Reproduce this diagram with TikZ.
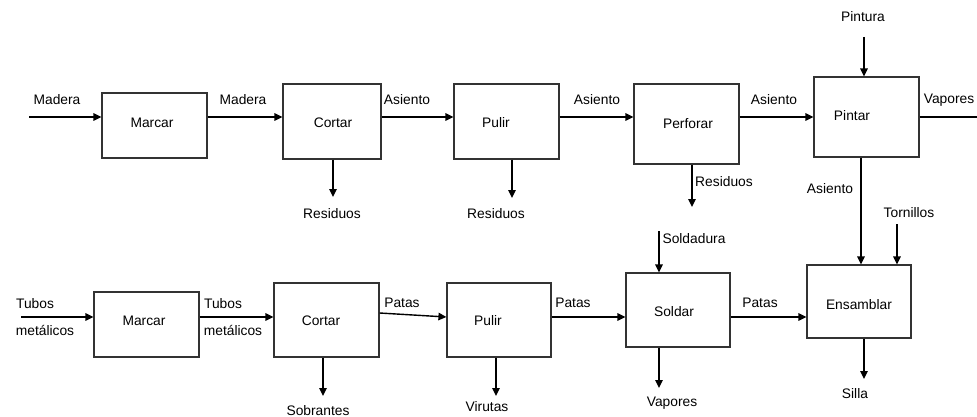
\documentclass[tikz,border=0pt]{standalone}
\usepackage{fontspec}
\setmainfont{Liberation Sans}
\usetikzlibrary{arrows.meta}
\tikzset{
	proc/.style={draw=black!80, line width=1.2pt, inner sep=0pt, minimum width=105pt},
	flow/.style={line width=1.4pt, -{Triangle[length=8pt,width=7.5pt]}},
	txt/.style={inner sep=0pt}
}

\begin{document}
\begin{tikzpicture}[x=1pt, y=-1pt, font=\fontsize{13.8}{16}\selectfont]
		%%%%% START %%%%%
		\useasboundingbox (0,0) rectangle (977,417);
		
		% wood line (asiento)
		\node[proc, minimum height=65pt, label={[xshift=-2.5pt,yshift=2.5pt]center:Marcar}] (marcarA) at (154.5,125.5) {};
		\node[proc, minimum width=98pt, minimum height=75pt, label={[xshift=1pt,yshift=-1.5pt]center:Cortar}] (cortarA) at (332,121.5) {};
		\node[proc, minimum height=75pt, label={[xshift=-10.5pt,yshift=-1.5pt]center:Pulir}] (pulirA) at (506.5,121.5) {};
		\node[proc, minimum height=80pt, label={[xshift=1.5pt,yshift=0pt]center:Perforar}] (perforar) at (686.5,124) {};
		\node[proc, minimum height=80pt, label={[xshift=-14.5pt,yshift=1pt]center:Pintar}] (pintar) at (866.5,117) {};
		
		\coordinate (inA) at (29,117);
		\node[txt] (lMaderaA) at (57,100) {Madera};
		\node[txt] (lMaderaB) at (243,100) {Madera};
		\node[txt] (lAsientoA) at (407,100) {Asiento};
		\node[txt] (lAsientoB) at (597,100) {Asiento};
		\node[txt] (lAsientoC) at (774,100) {Asiento};
		\node[txt] (lVaporesA) at (949,100) {Vapores};
		\coordinate (outVap) at (977,117);
		
		\draw[flow] (inA) -- ([yshift=8.5pt]marcarA.west);
		\draw[flow] ([yshift=8.5pt]marcarA.east) -- ([yshift=4.5pt]cortarA.west);
		\draw[flow] ([yshift=4.5pt]cortarA.east) -- ([yshift=4.5pt]pulirA.west);
		\draw[flow] ([yshift=4.5pt]pulirA.east) -- ([yshift=7pt]perforar.west);
		\draw[flow] ([yshift=7pt]perforar.east) -- (pintar.west);
		\draw[line width=1.4pt] (pintar.east) -- (outVap);
		
		\node[txt] (lPintura) at (863,17) {Pintura};
		\coordinate (inPint) at (864,37);
		\draw[flow] (inPint) -- ([xshift=-2.5pt]pintar.north);
		
		\coordinate (resA) at (333,197);
		\coordinate (resB) at (512,198);
		\coordinate (resC) at (692,207);
		\node[txt] (lResA) at (332,214) {Residuos};
		\node[txt] (lResB) at (496,214) {Residuos};
		\node[txt] (lResC) at (724,182) {Residuos};
		\draw[flow] ([xshift=1pt]cortarA.south) -- (resA);
		\draw[flow] ([xshift=5.5pt]pulirA.south) -- (resB);
		\draw[flow] ([xshift=5.5pt]perforar.south) -- (resC);
		
		% metal line (patas)
		\node[proc, minimum height=65pt, label={[xshift=-2.5pt,yshift=3.5pt]center:Marcar}] (marcarB) at (146.5,324.5) {};
		\node[proc, minimum height=74pt, label={[xshift=-5.5pt,yshift=-1pt]center:Cortar}] (cortarB) at (326.5,320) {};
		\node[proc, minimum width=104pt, minimum height=74pt, label={[xshift=-11pt,yshift=-1pt]center:Pulir}] (pulirB) at (499,320) {};
		\node[proc, minimum width=104pt, minimum height=74pt, label={[xshift=-4pt,yshift=-2pt]center:Soldar}] (soldar) at (678,310) {};
		\node[proc, minimum width=104pt, minimum height=73pt, label={[yshift=-3.5pt]center:Ensamblar}] (ensamblar) at (859,301.5) {};
		
		\coordinate (inB) at (21,317);
		\node[txt] (lTubosA) at (35,304) {Tubos};
		\node[txt] (lMetalA) at (45,330) {metálicos};
		\node[txt] (lTubosB) at (223,304) {Tubos};
		\node[txt] (lMetalB) at (233,330) {metálicos};
		\node[txt] (lPatasA) at (402,303) {Patas};
		\node[txt] (lPatasB) at (573,303) {Patas};
		\node[txt] (lPatasC) at (760,303) {Patas};
		
		\draw[flow] (inB) -- ([yshift=7.5pt]marcarB.west);
		\draw[flow] ([yshift=7.5pt]marcarB.east) -- ([yshift=3pt]cortarB.west);
		\draw[flow] ([yshift=7pt]cortarB.east) -- ([yshift=3pt]pulirB.west);
		\draw[flow] ([yshift=3pt]pulirB.east) -- ([yshift=-7pt]soldar.west);
		\draw[flow] ([yshift=-7pt]soldar.east) -- ([yshift=-15.5pt]ensamblar.west);
		
		\node[txt] (lSold) at (694,239) {Soldadura};
		\coordinate (inSold) at (659,231);
		\draw[flow] (inSold) -- ([xshift=-19pt]soldar.north);
		
		\node[txt] (lAsientoD) at (830,189) {Asiento};
		\draw[flow] ([xshift=-5.5pt]pintar.south) -- ([xshift=2pt]ensamblar.north);
		\node[txt] (lTorn) at (909,213) {Tornillos};
		\coordinate (inTorn) at (897,224);
		\draw[flow] (inTorn) -- ([xshift=38pt]ensamblar.north);
		
		\coordinate (outSob) at (323,396);
		\coordinate (outVir) at (496,396);
		\coordinate (outVapB) at (659,388);
		\coordinate (outSilla) at (864,379);
		\node[txt] (lSob) at (318,411) {Sobrantes};
		\node[txt] (lVir) at (487,407) {Virutas};
		\node[txt] (lVaporesB) at (672,403) {Vapores};
		\node[txt] (lSilla) at (855,394) {Silla};
		\draw[flow] ([xshift=-3.5pt]cortarB.south) -- (outSob);
		\draw[flow] ([xshift=-3pt]pulirB.south) -- (outVir);
		\draw[flow] ([xshift=-19pt]soldar.south) -- (outVapB);
		\draw[flow] ([xshift=5pt]ensamblar.south) -- (outSilla);
		
		%%%%% END %%%%%
\end{tikzpicture}
\end{document}
